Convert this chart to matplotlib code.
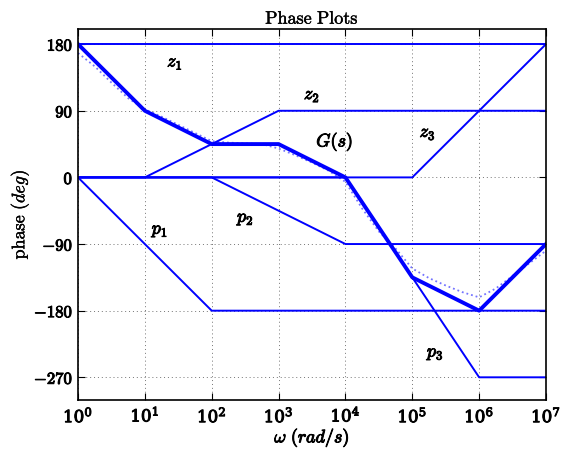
import numpy as np
import matplotlib
matplotlib.use("Agg")
import matplotlib.pyplot as plt
import matplotlib.patheffects as pe

plt.rcParams['mathtext.fontset'] = 'cm'
plt.rcParams['font.family'] = 'serif'
plt.rcParams['font.serif'] = ['DejaVu Serif']

# asymptotic pieces (frequency breakpoints, phase in deg)
z1_w = [1e0, 1e7]
z1_ph = [180, 180]
z2_w = [1e0, 1e1, 1e3, 1e7]
z2_ph = [0, 0, 90, 90]
z3_w = [1e0, 1e5, 1e7]
z3_ph = [0, 0, 180]
p1_w = [1e0, 1e2, 1e7]
p1_ph = [0, -180, -180]
p2_w = [1e0, 1e2, 1e4, 1e7]
p2_ph = [0, 0, -90, -90]
p3_w = [1e0, 1e4, 1e6, 1e7]
p3_ph = [0, 0, -270, -270]

# total asymptote G(s)
g_w = [1e0, 1e1, 1e2, 1e3, 1e4, 1e5, 1e6, 1e7]
g_ph = [180, 90, 45, 45, 0, -135, -180, -90]

act_logw = [0, 0.25, 0.5, 0.75, 1, 1.25, 1.5, 1.75, 2, 2.25, 2.5, 2.75, 3, 3.25, 3.5,
            3.75, 4, 4.25, 4.5, 4.75, 5, 5.25, 5.5, 5.75, 6, 6.25, 6.5, 6.75, 7]
act_ph = [168, 150, 128, 107, 92, 82, 71, 60, 49, 47, 46, 45, 39, 30, 20,
          9, -6, -42, -73, -96, -123, -136, -146, -155, -162, -150, -133, -116, -99]

labels = [r'$z_1$', r'$z_2$', r'$z_3$', r'$p_1$', r'$p_2$', r'$p_3$', r'$G(s)$']
label_w = [10**1.45, 10**3.5, 10**5.23, 10**1.23, 10**2.51, 10**5.35, 10**3.84]
label_ph = [155, 111, 60, -72, -56, -238, 48]

blue = (0, 0, 1)
bold = [pe.withStroke(linewidth=0.7, foreground='black')]
semi = [pe.withStroke(linewidth=0.3, foreground='black')]

fig = plt.figure(figsize=(5.62, 4.49), dpi=100)
ax = fig.add_axes([0.1388, 0.1102, 0.8327, 0.8245])

for w, ph in [(z1_w, z1_ph), (z2_w, z2_ph), (z3_w, z3_ph),
              (p1_w, p1_ph), (p2_w, p2_ph), (p3_w, p3_ph)]:
    ax.semilogx(w, ph, color=blue, lw=1.4)
ax.semilogx(g_w, g_ph, color=blue, lw=2.8)
ax.semilogx(10.0 ** np.array(act_logw), act_ph, color=blue, lw=1.3, ls=':', alpha=0.55)

for t, x, y in zip(labels, label_w, label_ph):
    ax.text(x, y, t, fontsize=13, ha='center', va='center', path_effects=bold)

ax.set_xlim(1e0, 1e7)
ax.set_ylim(-300, 200)
ax.set_xticks([10.0 ** k for k in range(8)])
ax.xaxis.set_minor_locator(matplotlib.ticker.NullLocator())
ax.set_yticks([180, 90, 0, -90, -180, -270])
ax.set_yticklabels([r'$180$', r'$90$', r'$0$', r'$-90$', r'$-180$', r'$-270$'])
ax.tick_params(direction='in', top=True, right=True, labelsize=12, length=5)
for lab in ax.get_xticklabels() + ax.get_yticklabels():
    lab.set_path_effects(bold)
ax.grid(True, ls=(0, (1, 3)), color='0.45', lw=0.7)
for s in ax.spines.values():
    s.set_linewidth(1.2)

ax.set_title(r'$\mathrm{Phase\ Plots}$', fontsize=13, pad=4, path_effects=semi)
ax.set_xlabel(r'$\omega\ (rad/s)$', fontsize=13, labelpad=0, path_effects=bold)
ax.set_ylabel(r'$\mathrm{phase}\ (deg)$', fontsize=13, labelpad=2, path_effects=semi)

fig.savefig('out.png', dpi=100)
